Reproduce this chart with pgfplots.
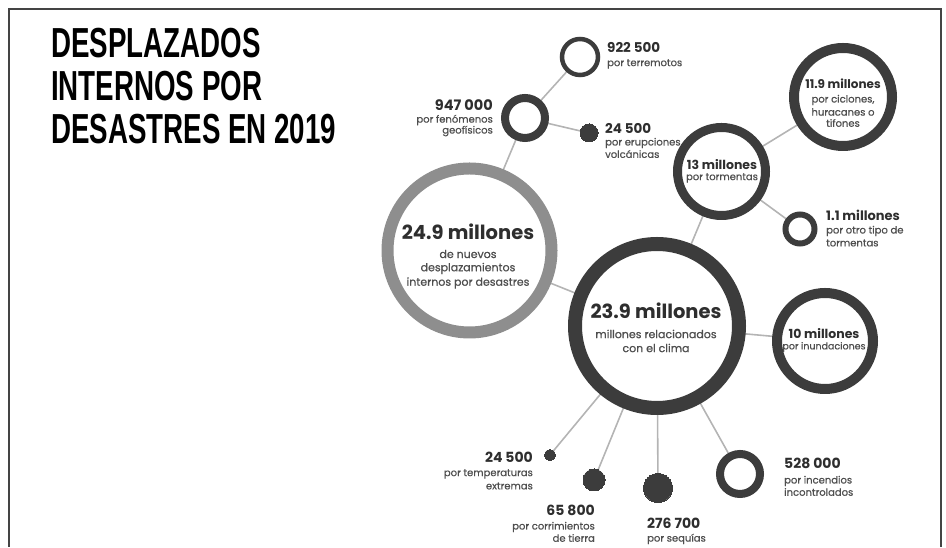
\documentclass[border=0pt]{standalone}
\usepackage{fontspec}
\setmainfont{Poppins}
\newfontfamily\capfont{Poppins}[FakeBold=0.6]
\newfontfamily\titlefont{Liberation Sans}[FakeStretch=0.66]
\usepackage{pgfplots}
\pgfplotsset{compat=1.18}
\definecolor{ringdark}{HTML}{3C3C3C}
\definecolor{ringgray}{HTML}{8E8E8E}
\definecolor{linkgray}{HTML}{B4B4B4}
\definecolor{numtxt}{HTML}{2E2E2E}
\definecolor{captxt}{HTML}{4E4E4E}
\definecolor{frame}{HTML}{444444}
\newcommand{\fs}[1]{\fontsize{#1}{#1}\selectfont}
\tikzset{
  cap/.style={inner sep=0, text=captxt, font=\capfont\fs{#1}},
  num/.style={inner sep=0, text=numtxt, font=\bfseries\fs{#1}},
}
\begin{document}
\begin{tikzpicture}
\begin{axis}[
  width=946pt, height=547pt, scale only axis,
  xmin=0, xmax=946, ymin=0, ymax=547, y dir=reverse,
  hide axis, clip=false, set layers=standard,
  link/.style={linkgray, line width=1.6pt, no marks},
  ring/.style={only marks, mark=*, mark options={draw=ringdark, fill=white, line width=#1}},
  dot/.style={only marks, mark=*, mark options={draw=ringdark, fill=ringdark, line width=0pt}},
]
% bounding box
\addplot[draw=none, no marks] coordinates {(0,0) (946,547)};
% frame
\addplot[frame, line width=2pt, no marks] coordinates {(9,547) (9,9) (941,9) (941,547)};
% links
\addplot[link] coordinates {(580,57) (525,118)};
\addplot[link] coordinates {(525,118) (589,133)};
\addplot[link] coordinates {(525,118) (469.5,250.5)};
\addplot[link] coordinates {(469.5,250.5) (657,326)};
\addplot[link] coordinates {(657,326) (721.5,171.5)};
\addplot[link] coordinates {(721.5,171.5) (843,97)};
\addplot[link] coordinates {(721.5,171.5) (800,229)};
\addplot[link] coordinates {(657,326) (825,341)};
\addplot[link] coordinates {(657,326) (550,455)};
\addplot[link] coordinates {(657,326) (594,480)};
\addplot[link] coordinates {(657,326) (658,488)};
\addplot[link] coordinates {(657,326) (740,474)};
% rings
\addplot[only marks, mark=*, mark size=82pt, mark options={draw=ringgray, fill=white, line width=12pt}] coordinates {(469.5,250.5)};
\addplot[ring=14pt, mark size=82pt] coordinates {(657,326)};
\addplot[ring=9pt, mark size=44pt] coordinates {(721.5,171.5)};
\addplot[ring=10pt, mark size=49pt] coordinates {(843,97)};
\addplot[ring=6pt, mark size=14.5pt] coordinates {(800,229)};
\addplot[ring=10pt, mark size=48pt] coordinates {(825,341)};
\addplot[ring=8pt, mark size=20pt] coordinates {(740,474)};
\addplot[ring=8pt, mark size=20pt] coordinates {(525,118)};
\addplot[ring=4.5pt, mark size=18pt] coordinates {(580,57)};
% dots
\addplot[dot, mark size=9pt] coordinates {(589,133)};
\addplot[dot, mark size=5.5pt] coordinates {(550,455)};
\addplot[dot, mark size=11pt] coordinates {(594,480)};
\addplot[dot, mark size=14.5pt] coordinates {(658,488)};

\begin{pgfonlayer}{axis foreground}
% title
\node[anchor=west, inner sep=0, text=black, font=\titlefont\bfseries\fs{42}] at (axis cs:51,43) {DESPLAZADOS};
\node[anchor=west, inner sep=0, text=black, font=\titlefont\bfseries\fs{42}] at (axis cs:51,86) {INTERNOS POR};
\node[anchor=west, inner sep=0, text=black, font=\titlefont\bfseries\fs{42}] at (axis cs:51,129) {DESASTRES EN 2019};

% big gray circle text
\node[num=19.5] at (axis cs:468,232) {24.9 millones};
\node[cap=11] at (axis cs:468,254) {de nuevos};
\node[cap=11] at (axis cs:468,268.5) {desplazamientos};
\node[cap=11] at (axis cs:468,283) {internos por desastres};
% 23.9
\node[num=19.5] at (axis cs:656,311) {23.9 millones};
\node[cap=11] at (axis cs:656,334) {millones relacionados};
\node[cap=11] at (axis cs:656,348) {con el clima};
% 13 millones
\node[num=12.5] at (axis cs:722,165) {13 millones};
\node[cap=10] at (axis cs:722,178) {por tormentas};
% 11.9
\node[num=12] at (axis cs:843,84) {11.9 millones};
\node[cap=10] at (axis cs:843,100) {por ciclones,};
\node[cap=10] at (axis cs:843,112) {huracanes o};
\node[cap=10] at (axis cs:843,123) {tifones};
% 10 millones
\node[num=12.5] at (axis cs:824,334) {10 millones};
\node[cap=9.5] at (axis cs:824,347) {por inundaciones};
% 1.1
\node[num=13, anchor=west] at (axis cs:826,215) {1.1 millones};
\node[cap=10, anchor=west] at (axis cs:826,231) {por otro tipo de};
\node[cap=10, anchor=west] at (axis cs:826,243) {tormentas};
% 922 500
\node[num=13.5, anchor=west] at (axis cs:607,47) {922 500};
\node[cap=10, anchor=west] at (axis cs:607,64) {por terremotos};
% 947 000
\node[num=14.5, anchor=east] at (axis cs:493,105) {947 000};
\node[cap=10, anchor=east] at (axis cs:493,120) {por fenómenos};
\node[cap=10, anchor=east] at (axis cs:493,131) {geofísicos};
% 24 500 volcanic
\node[num=13.5, anchor=west] at (axis cs:605,128) {24 500};
\node[cap=10, anchor=west] at (axis cs:605,143) {por erupciones};
\node[cap=10, anchor=west] at (axis cs:605,154) {volcánicas};
% 528 000
\node[num=14, anchor=west] at (axis cs:784,463) {528 000};
\node[cap=10, anchor=west] at (axis cs:784,481) {por incendios};
\node[cap=10, anchor=west] at (axis cs:784,492) {incontrolados};
% 24 500 temp
\node[num=14, anchor=east] at (axis cs:533,457) {24 500};
\node[cap=10, anchor=east] at (axis cs:533,474) {por temperaturas};
\node[cap=10, anchor=east] at (axis cs:533,486) {extremas};
% 65 800
\node[num=14, anchor=east] at (axis cs:595,510) {65 800};
\node[cap=10, anchor=east] at (axis cs:595,527) {por corrimientos};
\node[cap=10, anchor=east] at (axis cs:595,538) {de tierra};
% 276 700
\node[num=14, anchor=west] at (axis cs:647,523) {276 700};
\node[cap=10, anchor=west] at (axis cs:647,539) {por sequías};
\end{pgfonlayer}
\end{axis}
\end{tikzpicture}
\end{document}
